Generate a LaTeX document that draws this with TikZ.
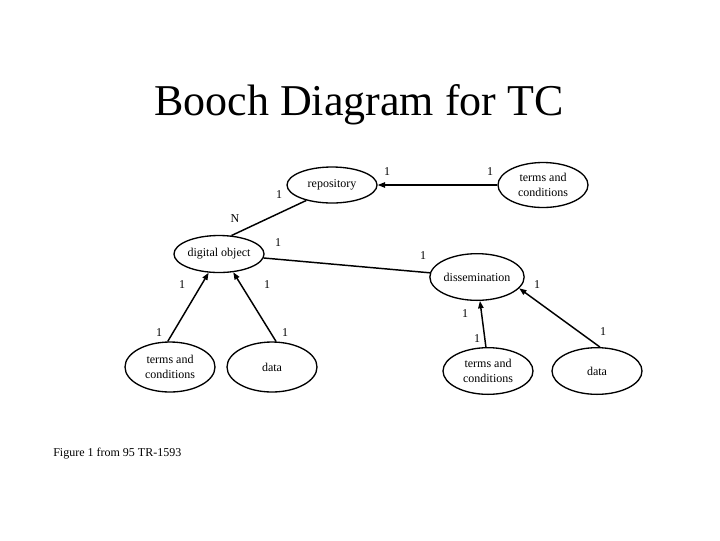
\documentclass[tikz,border=0pt]{standalone}
\usepackage{fontspec}
\setmainfont{Liberation Serif}
\usetikzlibrary{shapes.geometric,arrows.meta}
\begin{document}
\begin{tikzpicture}[x=0.75pt,y=-0.75pt,
  obj/.style={draw,ellipse,line width=1pt,inner sep=0pt,minimum width=67.5pt,align=center,font=\fontsize{9}{11}\selectfont},
  lbl/.style={inner sep=0pt,font=\fontsize{9}{11}\selectfont},
  link/.style={line width=1.1pt},
  arr/.style={line width=1.1pt,-{Triangle[length=5.5pt,width=4pt]}}]
\useasboundingbox (0,0) rectangle (720,540);
\node[font=\fontsize{33}{36}\selectfont,anchor=base] (title) at (359,115) {Booch Diagram for TC};
\node[obj,minimum height=27pt] (repo) at (332,185) {repository};
\node[obj,minimum height=33.75pt] (tcT) at (543,185) {terms and\\conditions};
\node[obj,minimum height=27.75pt] (dobj) at (219,254) {digital object};
\node[obj,minimum height=35pt] (diss) at (477,277) {dissemination};
\node[obj,minimum height=37.5pt] (tcL) at (170,367) {terms and\\conditions};
\node[obj,minimum height=37.5pt] (dataL) at (272,367) {data};
\node[obj,minimum height=35pt] (tcR) at (488,371) {terms and\\conditions};
\node[obj,minimum height=35pt] (dataR) at (597,371) {data};
\draw[arr] (tcT.west) -- (repo.east);
\draw[link] (repo.211) -- (dobj.56);
\draw[link] (dobj) -- (diss);
\draw[arr] (tcL.95) -- (dobj.241);
\draw[arr] (dataL.81) -- (dobj.308);
\draw[arr] (tcR.95) -- (diss.277);
\draw[arr] (dataR.83) -- (diss.345);
\node[lbl] (l1) at (387,172) {1};
\node[lbl] (l2) at (490,172) {1};
\node[lbl] (l3) at (279,195) {1};
\node[lbl] (lN) at (235,219) {N};
\node[lbl] (l4) at (278,243) {1};
\node[lbl] (l5) at (423,256) {1};
\node[lbl] (l6) at (182,285) {1};
\node[lbl] (l7) at (267,285) {1};
\node[lbl] (l8) at (537,285) {1};
\node[lbl] (l9) at (465,314) {1};
\node[lbl] (l10) at (159,333) {1};
\node[lbl] (l11) at (285,333) {1};
\node[lbl] (l12) at (477,339) {1};
\node[lbl] (l13) at (603,332) {1};
\node[lbl,anchor=base west] (cap) at (53,456) {Figure 1 from 95 TR-1593};
\end{tikzpicture}
\end{document}
